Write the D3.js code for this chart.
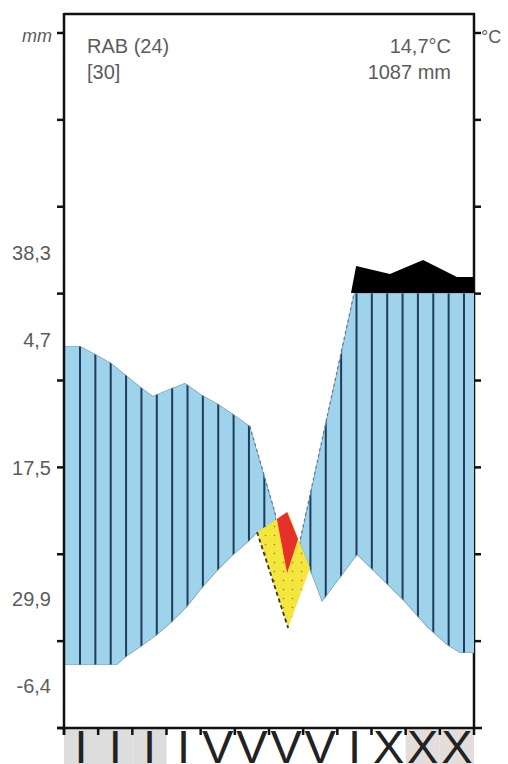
<!DOCTYPE html>
<html><head><meta charset="utf-8">
<script src="https://cdn.jsdelivr.net/npm/d3@7"></script>
<style>html,body{margin:0;padding:0;background:#fff;} svg{display:block;}</style>
</head><body>
<svg id="chart" width="508" height="764"></svg>
<script>
// ---- data ----
const monthLabels = ["I","I","I","I","V","V","V","V","I","X","X","X"];
const frostMonths = [0, 1, 2, 10, 11];
const leftTickLabels = ["38,3", "4,7", "17,5", "29,9", "-6,4"];
const leftTickLabelPos = [54.7, 44.7, 29.9, 14.9, 4.8];
const leftTicks = [0, 10, 20, 30, 40, 50, 60, 70, 80];
const rightTicks = [10, 20, 30, 40, 50, 60, 70, 80];
const precipitation = [[0,43.97],[0.47,43.97],[0.91,43.05],[1.38,42.02],[1.81,40.63],[2.28,39.14],[2.60,38.22],[3.16,39.14],[3.54,39.71],[4.04,38.33],[4.51,37.29],[4.95,36.14],[5.44,34.76],[6.18,24.75],[6.56,11.63],[6.91,21.64],[8.49,50.07],[12,50.07]];
const temperature = [[0,7.25],[1.55,7.25],[1.81,8.17],[2.28,9.44],[2.72,10.71],[3.16,12.20],[3.60,13.93],[4.04,16.12],[4.51,18.19],[4.95,19.91],[5.39,21.41],[5.59,22.22],[6.56,24.86],[7.55,14.50],[8.58,19.91],[9.92,14.73],[10.62,11.63],[11.21,9.55],[11.59,8.63],[12,8.63]];
const precipCap = 50.07;
const precipExcess = [[8.40,50.07],[8.55,53.18],[9.54,52.26],[10.51,53.87],[11.50,51.91],[12,51.91]];
const aridPeriod = [[5.65,22.56],[6.56,24.86],[6.85,21.76],[7.20,18.42],[6.56,11.51]];
const hotPeriod = [[6.23,24.06],[6.53,24.86],[6.85,21.76],[6.53,17.84]];
const aridEdge = [[5.65,22.56],[6.56,11.51]];
const stationName = "RAB (24)";
const stationYears = "[30]";
const meanTemp = "14,7°C";
const annualPrecip = "1087 mm";

// ---- layout ----
const W = 508, H = 764;
const L = 64, R = 474, T = 14, B = 728;
const x = d3.scaleLinear().domain([0, 12]).range([L, R]);
const y = d3.scaleLinear().domain([0, 80]).range([B, 33]);
const svg = d3.select("#chart");
const defs = svg.append("defs");
const font = "'Liberation Sans', Arial, sans-serif";
const textCol = "#5c5c5c";

// clip: region below precipitation line
defs.append("clipPath").attr("id", "belowP").append("path")
  .attr("d", d3.area().x(d => x(d[0])).y0(B).y1(d => y(d[1]))(precipitation));
// clip: region above temperature line
defs.append("clipPath").attr("id", "aboveT").append("path")
  .attr("d", d3.area().x(d => x(d[0])).y0(d => y(d[1])).y1(T)(temperature));

// dots pattern for arid area
const pat = defs.append("pattern").attr("id", "dots").attr("patternUnits", "userSpaceOnUse")
  .attr("width", 9).attr("height", 9);
pat.append("rect").attr("width", 9).attr("height", 9).attr("fill", "#f4e63c");
pat.append("circle").attr("cx", 4.5).attr("cy", 4.5).attr("r", 0.8).attr("fill", "#8f8340");

// frost month bands
svg.append("g").selectAll("rect").data(frostMonths).join("rect")
  .attr("x", d => x(d)).attr("width", d => x(d + 1) - x(d))
  .attr("y", B + 1).attr("height", H - B)
  .attr("fill", d => d < 6 ? "#dddddd" : "#e3dedb");

// frame (right & top) beneath areas
svg.append("line").attr("x1", R).attr("x2", R).attr("y1", T - 1).attr("y2", B)
  .attr("stroke", "#111").attr("stroke-width", 2.5);
svg.append("line").attr("x1", L).attr("x2", R + 1).attr("y1", T).attr("y2", T)
  .attr("stroke", "#111").attr("stroke-width", 2.5);

// humid area (blue) with hatching
const g1 = svg.append("g").attr("clip-path", "url(#belowP)");
const g2 = g1.append("g").attr("clip-path", "url(#aboveT)");
g2.append("rect").attr("x", L).attr("y", T).attr("width", R - L + 1.5).attr("height", B - T)
  .attr("fill", "#9fd3ec");
g2.selectAll("line.h").data(d3.range(26)).join("line")
  .attr("x1", k => 80 + 15.36 * k).attr("x2", k => 80 + 15.36 * k)
  .attr("y1", T).attr("y2", B)
  .attr("stroke", "#1d3d5a").attr("stroke-width", 2);
g2.append("path").attr("d", d3.line().x(d => x(d[0])).y(d => y(d[1]))(precipitation))
  .attr("fill", "none").attr("stroke", "#7d9fb5").attr("stroke-width", 1.2);
g2.append("path").attr("d", d3.line().x(d => x(d[0])).y(d => y(d[1]))(temperature))
  .attr("fill", "none").attr("stroke", "#7d9fb5").attr("stroke-width", 1.2);

// dashed precipitation line in the dry transition
svg.append("path")
  .attr("d", d3.line().x(d => x(d[0])).y(d => y(d[1]))(precipitation.filter(d => d[0] >= 5.44 && d[0] <= 8.49)))
  .attr("fill", "none").attr("stroke", "#557590").attr("stroke-width", 1.1)
  .attr("stroke-dasharray", "3,3");

// precipitation above cap (black)
svg.append("path")
  .attr("d", d3.area().x(d => x(d[0])).y0(y(precipCap)).y1(d => y(d[1]))(precipExcess))
  .attr("fill", "#000");

// arid area (yellow dotted)
svg.append("path").attr("d", d3.line().x(d => x(d[0])).y(d => y(d[1])).curve(d3.curveLinearClosed)(aridPeriod))
  .attr("fill", "url(#dots)");
svg.append("path").attr("d", d3.line().x(d => x(d[0])).y(d => y(d[1]))(aridEdge))
  .attr("fill", "none").attr("stroke", "#333").attr("stroke-width", 1.8).attr("stroke-dasharray", "4,3");
// hot period (red)
svg.append("path").attr("d", d3.line().x(d => x(d[0])).y(d => y(d[1])).curve(d3.curveLinearClosed)(hotPeriod))
  .attr("fill", "#e8302b");

// left axis line and bottom line
svg.append("line").attr("x1", L).attr("x2", L).attr("y1", T - 1).attr("y2", B + 7)
  .attr("stroke", "#111").attr("stroke-width", 2.5);
svg.append("line").attr("x1", L - 7).attr("x2", R + 8).attr("y1", B).attr("y2", B)
  .attr("stroke", "#111").attr("stroke-width", 2.5);

// ticks
svg.append("g").selectAll("line").data(leftTicks).join("line")
  .attr("x1", L - 7).attr("x2", L).attr("y1", d => y(d)).attr("y2", d => y(d))
  .attr("stroke", "#111").attr("stroke-width", 2.5);
svg.append("g").selectAll("line").data(rightTicks).join("line")
  .attr("x1", R).attr("x2", R + 7).attr("y1", d => y(d)).attr("y2", d => y(d))
  .attr("stroke", "#111").attr("stroke-width", 2.5);
svg.append("g").selectAll("line").data(d3.range(13)).join("line")
  .attr("x1", d => x(d)).attr("x2", d => x(d)).attr("y1", B).attr("y2", B + 7)
  .attr("stroke", "#111").attr("stroke-width", 2.5);

// left tick labels
svg.append("g").selectAll("text").data(leftTickLabels).join("text")
  .attr("x", 51).attr("y", (d, i) => y(leftTickLabelPos[i]) + 7)
  .attr("text-anchor", "end").attr("font-family", font).attr("font-size", 20)
  .attr("fill", textCol).text(d => d);

// unit labels
svg.append("text").attr("x", 52).attr("y", 42).attr("text-anchor", "end")
  .attr("font-family", font).attr("font-size", 18).attr("font-style", "italic")
  .attr("fill", textCol).text("mm");
svg.append("text").attr("x", 481).attr("y", 43)
  .attr("font-family", font).attr("font-size", 18)
  .attr("fill", textCol).text("°C");

// station info
svg.append("text").attr("x", 87).attr("y", 53).attr("font-family", font).attr("font-size", 20)
  .attr("fill", textCol).text(stationName);
svg.append("text").attr("x", 87).attr("y", 79).attr("font-family", font).attr("font-size", 20)
  .attr("fill", textCol).text(stationYears);
svg.append("text").attr("x", 451).attr("y", 53).attr("text-anchor", "end").attr("font-family", font).attr("font-size", 20)
  .attr("fill", textCol).text(meanTemp);
svg.append("text").attr("x", 451).attr("y", 79).attr("text-anchor", "end").attr("font-family", font).attr("font-size", 20)
  .attr("fill", textCol).text(annualPrecip);

// month labels
svg.append("g").selectAll("text").data(monthLabels).join("text")
  .attr("x", (d, i) => x(i + 0.5)).attr("y", 763)
  .attr("text-anchor", "middle").attr("font-family", font).attr("font-size", 47)
  .attr("fill", "#222").text(d => d);
</script>
</body></html>
